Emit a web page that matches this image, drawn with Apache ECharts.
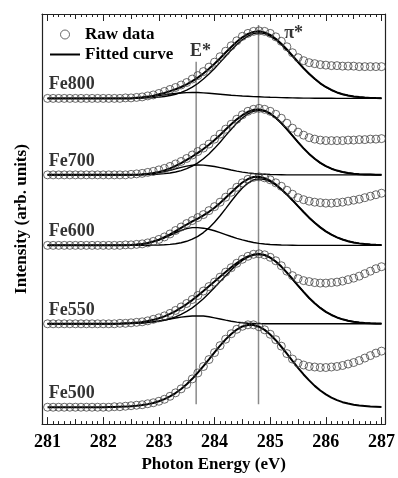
<!DOCTYPE html>
<html>
<head>
<meta charset="utf-8">
<script src="https://cdn.jsdelivr.net/npm/echarts@6/dist/echarts.min.js"></script>
<style>
html, body { margin: 0; padding: 0; background: #fff; }
#main { width: 398px; height: 478px; }
</style>
</head>
<body>
<div id="main"></div>
<script>
// photon energy, 0.1 eV step
var energy = [
    281.0, 281.1, 281.2, 281.3, 281.4, 281.5, 281.6, 281.7, 281.8, 281.9,
    282.0, 282.1, 282.2, 282.3, 282.4, 282.5, 282.6, 282.7, 282.8, 282.9,
    283.0, 283.1, 283.2, 283.3, 283.4, 283.5, 283.6, 283.7, 283.8, 283.9,
    284.0, 284.1, 284.2, 284.3, 284.4, 284.5, 284.6, 284.7, 284.8, 284.9,
    285.0, 285.1, 285.2, 285.3, 285.4, 285.5, 285.6, 285.7, 285.8, 285.9,
    286.0, 286.1, 286.2, 286.3, 286.4, 286.5, 286.6, 286.7, 286.8, 286.9,
    287.0
];
var majorTicks = [281, 282, 283, 284, 285, 286, 287];
var halfTicks = [281.5, 282.5, 283.5, 284.5, 285.5, 286.5];

var samples = ['Fe800', 'Fe700', 'Fe600', 'Fe550', 'Fe500'];
// vertical shift of each spectrum
var offsets = [328, 251, 180, 101, 17];

// peak positions (eV)
var eStarEnergy = 283.67;
var piStarEnergy = 284.79;

var raw800 = [
    0, 0, 0, 0, 0, 0, 0, 0, 0, 0,
    0, 0, 0, 0, 0.5, 0.5, 1, 1.5, 2.5, 3.5,
    5, 7, 9, 11, 13.5, 16, 19.5, 23, 27, 31.5,
    36.5, 42, 47.5, 53, 58, 62.5, 65.5, 67.5, 68, 67.5,
    65.5, 62, 57.5, 52, 46, 41, 38, 36, 35, 34,
    33.5, 33, 33, 32.5, 32.5, 32.5, 32, 32, 32, 32,
    32
];
var fit800 = [
    0, 0, 0, 0, 0, 0, 0, 0, 0, 0,
    0, 0, 0, 0, 0, 0, 0.7, 1.1, 1.8, 2.8,
    4.1, 5.5, 7.3, 9.2, 11.5, 14.2, 17.4, 20.9, 25.1, 29.8,
    34.9, 40.5, 46.2, 51.8, 57.1, 61.5, 64.9, 67.0, 67.6, 66.5,
    63.9, 60.1, 55.1, 49.3, 43.0, 36.7, 30.5, 24.9, 19.7, 15.2,
    11.5, 8.5, 6.0, 4.2, 2.9, 1.9, 1.3, 0.8, 0.5, 0.3,
    0.2
];
var eStar800 = [
    0, 0, 0, 0, 0, 0, 0, 0, 0, 0,
    0, 0, 0, 0, 0, 0, 0.5, 0.8, 1.3, 2.0,
    2.8, 3.6, 4.4, 5.0, 5.5, 5.8, 6.0, 5.9, 5.6, 5.2,
    4.7, 4.2, 3.7, 3.2, 2.8, 2.4, 2.1, 1.8, 1.6, 1.3,
    1.1, 1.0, 0.8, 0.65, 0.5, 0.4, 0.3, 0.25, 0.2, 0.15,
    0.1, 0.1, 0, 0, 0, 0, 0, 0, 0, 0,
    0
];
var piStar800 = [
    0, 0, 0, 0, 0, 0, 0, 0, 0, 0,
    0, 0, 0, 0, 0, 0, 0.2, 0.3, 0.5, 0.8,
    1.3, 1.9, 2.9, 4.2, 6.0, 8.4, 11.4, 15.0, 19.5, 24.6,
    30.2, 36.3, 42.5, 48.6, 54.3, 59.1, 62.8, 65.2, 66, 65.2,
    62.8, 59.1, 54.3, 48.6, 42.5, 36.3, 30.2, 24.6, 19.5, 15.0,
    11.4, 8.4, 6.0, 4.2, 2.9, 1.9, 1.3, 0.8, 0.5, 0.3,
    0.2
];

var raw700 = [
    0, 0, 0, 0, 0, 0, 0, 0, 0, 0,
    0, 0, 0, 0, 0, 0.5, 1, 1.5, 2.5, 3.5,
    5, 6.5, 8.5, 11, 13.5, 16.5, 20, 23.5, 27, 31,
    36, 41, 46, 51, 56, 60.5, 64, 66, 67, 66,
    64, 61, 57, 52, 47, 43, 40, 37.5, 36, 35,
    34.5, 34.5, 34.5, 34.5, 35, 35, 35.5, 35.5, 36, 36,
    36.5
];
var fit700 = [
    0, 0, 0, 0, 0, 0, 0, 0, 0, 0,
    0, 0, 0, 0, 0, 0.1, 0.2, 0.5, 1.1, 1.8,
    2.9, 4.5, 6.5, 9.0, 11.9, 15.0, 18.5, 22.1, 26.0, 30.3,
    35.1, 40.2, 45.6, 50.9, 55.9, 60.1, 63.5, 65.5, 65.9, 64.7,
    61.8, 57.5, 52.2, 46.0, 39.5, 32.9, 26.7, 21.1, 16.2, 12.1,
    8.8, 6.2, 4.3, 2.9, 1.9, 1.2, 0.7, 0.4, 0.3, 0.1,
    0
];
var eStar700 = [
    0, 0, 0, 0, 0, 0, 0, 0, 0, 0,
    0, 0, 0, 0, 0, 0.1, 0.2, 0.4, 0.8, 1.4,
    2.2, 3.3, 4.6, 6.1, 7.6, 8.8, 9.7, 10, 9.8, 9.2,
    8.4, 7.3, 6.1, 4.9, 3.8, 2.8, 2.0, 1.4, 0.9, 0.6,
    0.3, 0.2, 0.1, 0, 0, 0, 0, 0, 0, 0,
    0, 0, 0, 0, 0, 0, 0, 0, 0, 0,
    0
];
var piStar700 = [
    0, 0, 0, 0, 0, 0, 0, 0, 0, 0,
    0, 0, 0, 0, 0, 0, 0, 0.1, 0.3, 0.4,
    0.7, 1.2, 1.9, 2.9, 4.3, 6.2, 8.8, 12.1, 16.2, 21.1,
    26.7, 32.9, 39.5, 46.0, 52.1, 57.3, 61.5, 64.1, 65, 64.1,
    61.5, 57.3, 52.1, 46.0, 39.5, 32.9, 26.7, 21.1, 16.2, 12.1,
    8.8, 6.2, 4.3, 2.9, 1.9, 1.2, 0.7, 0.4, 0.3, 0.1,
    0
];

var raw600 = [
    0, 0, 0, 0, 0, 0, 0, 0, 0, 0,
    0, 0, 0, 0, 0.5, 0.5, 1, 1.5, 2.5, 4,
    6, 8.5, 11.5, 15, 18.5, 22, 25, 28, 31, 35,
    39, 43.5, 48.5, 53.5, 58.5, 63, 66.5, 68.5, 69, 68,
    66, 63, 59.5, 55.5, 51.5, 48, 46, 44.5, 43.5, 43,
    42.5, 42.5, 43, 43.5, 44.5, 45.5, 46.5, 48, 49.5, 51,
    52.5
];
var fit600 = [
    0, 0, 0, 0, 0, 0, 0, 0, 0, 0,
    0, 0, 0, 0.1, 0.2, 0.4, 0.8, 1.4, 2.4, 3.9,
    5.7, 8.2, 11.1, 14.3, 17.7, 21.0, 24.1, 26.9, 30.2, 33.8,
    37.9, 42.7, 47.9, 53.3, 58.6, 63.3, 66.8, 68.8, 69.0, 67.7,
    65.1, 61.4, 56.6, 51.3, 45.5, 39.5, 33.6, 27.9, 22.7, 18.1,
    14.1, 10.8, 8.0, 5.9, 4.2, 2.9, 2.0, 1.3, 0.9, 0.6,
    0.4
];
var eStar600 = [
    0, 0, 0, 0, 0, 0, 0, 0, 0, 0,
    0, 0, 0, 0.1, 0.2, 0.4, 0.8, 1.4, 2.3, 3.7,
    5.4, 7.6, 10.1, 12.7, 15.1, 16.9, 17.9, 17.9, 17.3, 16.2,
    14.7, 12.9, 10.9, 8.9, 7.1, 5.5, 4.1, 2.9, 2.0, 1.4,
    0.9, 0.6, 0.3, 0.2, 0.1, 0, 0, 0, 0, 0,
    0, 0, 0, 0, 0, 0, 0, 0, 0, 0,
    0
];
var piStar600 = [
    0, 0, 0, 0, 0, 0, 0, 0, 0, 0,
    0, 0, 0, 0, 0, 0, 0, 0, 0.1, 0.2,
    0.3, 0.6, 1.0, 1.6, 2.6, 4.1, 6.2, 9.0, 12.9, 17.6,
    23.2, 29.8, 37.0, 44.4, 51.5, 57.8, 62.7, 65.9, 67, 66.3,
    64.2, 60.8, 56.3, 51.1, 45.4, 39.5, 33.6, 27.9, 22.7, 18.1,
    14.1, 10.8, 8.0, 5.9, 4.2, 2.9, 2.0, 1.3, 0.9, 0.6,
    0.4
];

var raw550 = [
    0, 0, 0, 0, 0, 0, 0, 0, 0, 0,
    0, 0, 0, 0.5, 0.5, 1, 1.5, 2, 3, 4.5,
    6, 8, 10.5, 13.5, 17, 20.5, 24.5, 28.5, 33, 37.5,
    42, 47, 52, 56.5, 61, 65, 68, 70, 70.5, 69.5,
    67, 63.5, 58.5, 53, 48.5, 45.5, 43.5, 42.5, 41.5, 41,
    41, 41.5, 42, 43, 44.5, 46, 48, 50.5, 53, 55.5,
    57.5
];
var fit550 = [
    0, 0, 0, 0, 0, 0, 0, 0, 0, 0,
    0, 0, 0.1, 0.25, 0.5, 0.7, 1.2, 1.9, 2.8, 4.0,
    5.6, 7.5, 10.0, 12.8, 16.2, 19.9, 23.9, 28.4, 33.0, 37.8,
    42.5, 47.4, 52.2, 56.9, 61.1, 64.9, 67.8, 69.7, 70.2, 69.3,
    66.6, 62.7, 57.6, 51.6, 45.1, 38.5, 32.1, 26.0, 20.7, 16.0,
    12.0, 8.9, 6.4, 4.5, 3.1, 2.0, 1.3, 0.8, 0.5, 0.3,
    0.2
];
var eStar550 = [
    0, 0, 0, 0, 0, 0, 0, 0, 0, 0,
    0, 0, 0.1, 0.15, 0.3, 0.4, 0.7, 1.1, 1.6, 2.2,
    3.0, 3.9, 4.9, 5.8, 6.7, 7.4, 7.8, 8.0, 7.8, 7.1,
    6.0, 4.9, 3.7, 2.6, 1.7, 1.1, 0.6, 0.4, 0.2, 0.1,
    0, 0, 0, 0, 0, 0, 0, 0, 0, 0,
    0, 0, 0, 0, 0, 0, 0, 0, 0, 0,
    0
];
var piStar550 = [
    0, 0, 0, 0, 0, 0, 0, 0, 0, 0,
    0, 0, 0, 0.1, 0.2, 0.3, 0.5, 0.8, 1.2, 1.8,
    2.6, 3.6, 5.1, 7.0, 9.5, 12.5, 16.1, 20.4, 25.2, 30.7,
    36.5, 42.5, 48.5, 54.3, 59.4, 63.8, 67.2, 69.3, 70, 69.2,
    66.6, 62.7, 57.6, 51.6, 45.1, 38.5, 32.1, 26.0, 20.7, 16.0,
    12.0, 8.9, 6.4, 4.5, 3.1, 2.0, 1.3, 0.8, 0.5, 0.3,
    0.2
];

var raw500 = [
    0, 0, 0, 0, 0, 0, 0, 0, 0, 0,
    0, 0, 0.5, 0.5, 1, 1.5, 2, 2.5, 3.5, 4.5,
    6, 8, 11, 14.5, 18.5, 23, 28.5, 34.5, 41, 48,
    55, 62, 68.5, 74, 78.5, 81.5, 83, 83, 81, 78,
    73.5, 68, 61.5, 54, 48.5, 44.5, 42.5, 41, 40.5, 40,
    40, 40.5, 41, 42, 43.5, 45, 47, 49.5, 52, 54.5,
    56.5
];
var fit500 = [
    0, 0, 0, 0, 0, 0, 0, 0, 0, 0,
    0, 0.1, 0.2, 0.4, 0.6, 1.0, 1.4, 2.2, 3.1, 4.3,
    6.0, 8.2, 11.0, 14.3, 18.3, 23.2, 28.6, 34.8, 41.3, 48.2,
    55.2, 62.0, 68.3, 73.8, 78.2, 81.3, 82.8, 82.8, 81.1, 77.9,
    73.2, 67.5, 60.9, 54.0, 46.7, 39.7, 33.0, 27.0, 21.5, 16.8,
    12.9, 9.7, 7.1, 5.1, 3.7, 2.5, 1.7, 1.2, 0.7, 0.5,
    0.3
];

var rawData = [raw800, raw700, raw600, raw550, raw500];
var fitData = [fit800, fit700, fit600, fit550, fit500];
var eStarData = [eStar800, eStar700, eStar600, eStar550, null];
var piStarData = [piStar800, piStar700, piStar600, piStar550, null];

var FONT = 'Liberation Serif';

chart();

function shifted(values, off) {
    return energy.map(function (e, i) {
        return [e, values[i] + off];
    });
}

function tickAxis(pos, values, len, withLine) {
    return {
        type: 'value',
        position: pos,
        min: 280.9,
        max: 287.07,
        splitLine: { show: false },
        axisLine: { show: withLine, onZero: false, lineStyle: { color: '#222', width: 1.2 } },
        axisTick: {
            show: true,
            inside: true,
            length: len,
            customValues: values,
            lineStyle: { color: '#222', width: 1 }
        },
        axisLabel: { show: false }
    };
}

function chart() {
    var myChart = echarts.init(document.getElementById('main'));

    var bottom = tickAxis('bottom', majorTicks, 7, true);
    bottom.axisLabel = {
        show: true,
        customValues: majorTicks,
        margin: 9,
        color: '#000',
        fontFamily: FONT,
        fontWeight: 'bold',
        fontSize: 18
    };
    bottom.name = 'Photon Energy (eV)';
    bottom.nameLocation = 'middle';
    bottom.nameGap = 30;
    bottom.nameTextStyle = { color: '#000', fontFamily: FONT, fontWeight: 'bold', fontSize: 17 };

    var xAxes = [
        bottom,
        tickAxis('bottom', halfTicks, 5, false),
        tickAxis('bottom', energy, 3, false),
        tickAxis('top', majorTicks, 7, true),
        tickAxis('top', halfTicks, 5, false),
        tickAxis('top', energy, 3, false)
    ];

    var yAxes = [{
        type: 'value',
        position: 'left',
        min: 0,
        max: 413,
        axisLine: { show: true, onZero: false, lineStyle: { color: '#222', width: 1.2 } },
        axisTick: { show: false },
        axisLabel: { show: false },
        splitLine: { show: false },
        name: 'Intensity (arb. units)',
        nameLocation: 'middle',
        nameGap: 12,
        nameTextStyle: { color: '#000', fontFamily: FONT, fontWeight: 'bold', fontSize: 17 }
    }, {
        type: 'value',
        position: 'right',
        min: 0,
        max: 413,
        axisLine: { show: true, onZero: false, lineStyle: { color: '#222', width: 1.2 } },
        axisTick: { show: false },
        axisLabel: { show: false },
        splitLine: { show: false }
    }];

    var series = [];

    // peak position markers
    [[eStarEnergy, 365], [piStarEnergy, 402]].forEach(function (m) {
        series.push({
            type: 'line',
            name: 'marker',
            symbol: 'none',
            silent: true,
            lineStyle: { color: '#8a8a8a', width: 1.5 },
            data: [[m[0], 20], [m[0], m[1]]],
            z: 1
        });
    });

    samples.forEach(function (s, k) {
        var off = offsets[k];
        if (eStarData[k]) {
            series.push({
                type: 'line',
                name: 'E* component',
                symbol: 'none',
                lineStyle: { color: '#000', width: 1.4 },
                data: shifted(eStarData[k], off),
                z: 2
            });
            series.push({
                type: 'line',
                name: 'π* component',
                symbol: 'none',
                lineStyle: { color: '#000', width: 1.4 },
                data: shifted(piStarData[k], off),
                z: 2
            });
        }
        series.push({
            type: 'line',
            name: 'Fitted curve',
            symbol: 'none',
            itemStyle: { color: '#000' },
            lineStyle: { color: '#000', width: 2 },
            data: shifted(fitData[k], off),
            z: 3
        });
        series.push({
            type: 'scatter',
            name: 'Raw data',
            symbol: 'circle',
            symbolSize: 8,
            itemStyle: { color: 'rgba(0,0,0,0)', borderColor: '#444', borderWidth: 1 },
            data: shifted(rawData[k], off),
            z: 4
        });
    });

    // sample names
    series.push({
        type: 'scatter',
        name: 'names',
        symbolSize: 0,
        silent: true,
        label: {
            show: true,
            position: 'right',
            distance: 0,
            formatter: '{b}',
            color: '#000',
            fontFamily: FONT,
            fontWeight: 'bold',
            fontSize: 18
        },
        data: samples.map(function (s, k) {
            return { name: s, value: [281.02, offsets[k] + 14] };
        }),
        z: 5
    });

    // peak names
    series.push({
        type: 'scatter',
        name: 'peaks',
        symbolSize: 0,
        silent: true,
        label: {
            show: true,
            position: 'inside',
            formatter: '{b}',
            color: '#000',
            fontFamily: FONT,
            fontWeight: 'bold',
            fontSize: 18
        },
        data: [
            { name: 'E*', value: [283.75, 375] },
            { name: 'π*', value: [285.42, 394] }
        ],
        z: 5
    });

    var option = {
        animation: false,
        backgroundColor: '#fff',
        grid: { left: 42, right: 9, top: 14, bottom: 51 },
        legend: {
            orient: 'vertical',
            left: 50,
            top: 26,
            padding: 0,
            itemGap: 3,
            itemWidth: 30,
            itemHeight: 9,
            selectedMode: false,
            textStyle: { color: '#000', fontFamily: FONT, fontWeight: 'bold', fontSize: 17 },
            data: [
                { name: 'Raw data', icon: 'circle', itemStyle: { color: 'rgba(0,0,0,0)', borderColor: '#444', borderWidth: 1 } },
                { name: 'Fitted curve', icon: 'path://M0,0 L30,0 L30,2 L0,2 Z', itemStyle: { color: '#000', borderWidth: 0 } }
            ]
        },
        xAxis: xAxes,
        yAxis: yAxes,
        series: series
    };
    myChart.setOption(option);
}
</script>
</body>
</html>
